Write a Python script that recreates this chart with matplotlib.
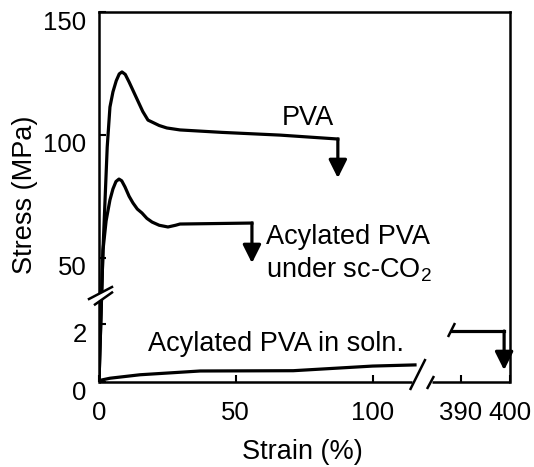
import numpy as np
import matplotlib
matplotlib.use("Agg")
import matplotlib.pyplot as plt
from matplotlib.transforms import ScaledTranslation
from matplotlib.patches import Polygon

plt.rcParams['font.family'] = ['Liberation Sans', 'DejaVu Sans']
plt.rcParams['mathtext.fontset'] = 'custom'
plt.rcParams['mathtext.rm'] = 'Liberation Sans'
plt.rcParams['mathtext.it'] = 'Liberation Sans:italic'

# ---- data (strain %, stress MPa) ----
pva_strain = [0, 1.46, 3.0, 4.0, 5.1, 6.3, 7.4, 8.4, 9.6, 11.0, 13.5, 16.0, 17.9, 19.4, 22.0,
              24.8, 29.6, 45.0, 66.1, 87.3]
pva_stress = [0, 53.1, 95.0, 111.3, 117.5, 122.0, 124.8, 125.6, 124.6, 121.5, 115.5, 109.5,
              106.0, 105.2, 103.8, 102.8, 102.0, 101.0, 99.9, 98.3]
pva_break_stress = 82.4

sc_strain = [0, 1.46, 2.6, 4.0, 5.1, 6.2, 7.3, 8.3, 9.5, 11.0, 12.4, 14.0, 15.7, 17.5, 19.4,
             22.0, 25.2, 28.0, 29.6, 55.9]
sc_stress = [0, 53.1, 65.0, 73.5, 78.0, 81.0, 82.0, 81.3, 78.8, 75.0, 72.3, 69.8, 68.2, 66.0,
             64.5, 63.2, 62.5, 63.2, 63.7, 64.1]
sc_break_stress = 47.8

soln_strain = [0, 1, 4, 15, 37, 71, 100, 115.5]
soln_stress = [0, 0.07, 0.13, 0.25, 0.38, 0.39, 0.55, 0.59]
soln_end_strain = [388.2, 398.8]
soln_end_stress = [1.76, 1.76]
soln_break_stress = 0.41

xticks = [0, 50, 100, 390, 400]
yticks = [0, 2, 50, 100, 150]

# ---- broken-axis scales (piecewise linear) ----
xd = [-100, 0, 115.5, 383.7, 400, 1000]
xp = [-274, 0, 316, 331, 411, 3351]
yd = [-100, 0, 2.9, 34, 150, 1000]
yp = [-2900, 0, 84, 85, 370, 2458]

def xf(v): return np.interp(v, xd, xp)
def xi(v): return np.interp(v, xp, xd)
def yf(v): return np.interp(v, yd, yp)
def yi(v): return np.interp(v, yp, yd)

W, H = 534, 467
fig = plt.figure(figsize=(W / 100, H / 100), dpi=100)
L, R, B, T = 99, 510, 382, 12
ax = fig.add_axes([L / W, (H - B) / H, (R - L) / W, (B - T) / H])
ax.set_xscale('function', functions=(xf, xi))
ax.set_yscale('function', functions=(yf, yi))
ax.set_xlim(0, 400)
ax.set_ylim(0, 150)

lw = 2.3
ax.plot(pva_strain, pva_stress, color='k', lw=lw, solid_joinstyle='round')
ax.plot(sc_strain, sc_stress, color='k', lw=lw, solid_joinstyle='round')
ax.plot(soln_strain, soln_stress, color='k', lw=lw, solid_joinstyle='round')
ax.plot(soln_end_strain, soln_end_stress, color='k', lw=lw)

arrowprops = dict(arrowstyle='-|>,head_length=1.1,head_width=0.55', mutation_scale=10,
                  color='k', lw=lw, shrinkA=0, shrinkB=0)
ax.annotate('', xy=(pva_strain[-1], pva_break_stress), xytext=(pva_strain[-1], pva_stress[-1]),
            arrowprops=arrowprops)
ax.annotate('', xy=(sc_strain[-1], sc_break_stress), xytext=(sc_strain[-1], sc_stress[-1]),
            arrowprops=arrowprops)
ax.annotate('', xy=(soln_end_strain[-1], soln_break_stress),
            xytext=(soln_end_strain[-1], soln_end_stress[-1]), arrowprops=arrowprops)

# ticks
ax.set_xticks(xticks)
ax.set_xticklabels([str(t) for t in xticks])
ax.set_yticks(yticks)
ax.set_yticklabels([str(t) for t in yticks])
ax.minorticks_off()
ax.tick_params(axis='both', direction='in', length=5, width=1.5, labelsize=18.5)
ax.tick_params(axis='x', pad=14)
ax.tick_params(axis='y', pad=9)
off = ScaledTranslation(0, -8 / 100, fig.dpi_scale_trans)
for lab in ax.get_yticklabels():
    lab.set_transform(lab.get_transform() + off)

for s in ['left', 'top', 'right']:
    ax.spines[s].set_linewidth(1.8)
ax.spines['bottom'].set_visible(False)

# decorations in pixel coordinates
def P(x, y):
    return ((x - L) / (R - L), (B - y) / (B - T))

def pline(xs, ys, lw_=1.8):
    pts = [P(x, y) for x, y in zip(xs, ys)]
    ax.plot([p[0] for p in pts], [p[1] for p in pts], color='k', lw=lw_,
            transform=ax.transAxes, clip_on=False, solid_capstyle='butt')

# bottom spine in two pieces
pline([99, 412], [382, 382])
pline([432, 510], [382, 382])
# x-axis break slashes
pline([410, 425.5], [390, 359])
pline([427, 434], [389, 376])
# slash at start of right-hand soln segment
pline([448, 455], [337, 323])
# y-axis break
poly = Polygon([P(89, 299), P(112, 287), P(112, 292.5), P(95, 304.5)], closed=True,
               facecolor='white', edgecolor='none', transform=ax.transAxes, clip_on=False, zorder=5)
ax.add_patch(poly)
ax.plot(*zip(P(89, 299), P(112, 287)), color='k', lw=1.8, transform=ax.transAxes, clip_on=False, zorder=6)
ax.plot(*zip(P(95, 304.5), P(112, 292.5)), color='k', lw=1.8, transform=ax.transAxes, clip_on=False, zorder=6)

# labels
fs = 19.5
ax.text(*P(308, 125), 'PVA', fontsize=fs, ha='center', va='baseline', transform=ax.transAxes)
ax.text(*P(266, 244), 'Acylated PVA', fontsize=fs, ha='left', va='baseline', transform=ax.transAxes)
ax.text(*P(266, 278), 'under sc-CO$_2$', fontsize=fs, ha='left', va='baseline', transform=ax.transAxes)
ax.text(*P(148, 351), 'Acylated PVA in soln.', fontsize=fs, ha='left', va='baseline',
        transform=ax.transAxes)

fig.text(302 / W, (H - 452) / H, 'Strain (%)', fontsize=fs, ha='center', va='center')
fig.text(25 / W, (H - 195) / H, 'Stress (MPa)', fontsize=fs, ha='center', va='center', rotation=90)

fig.savefig('out.png', dpi=100)
